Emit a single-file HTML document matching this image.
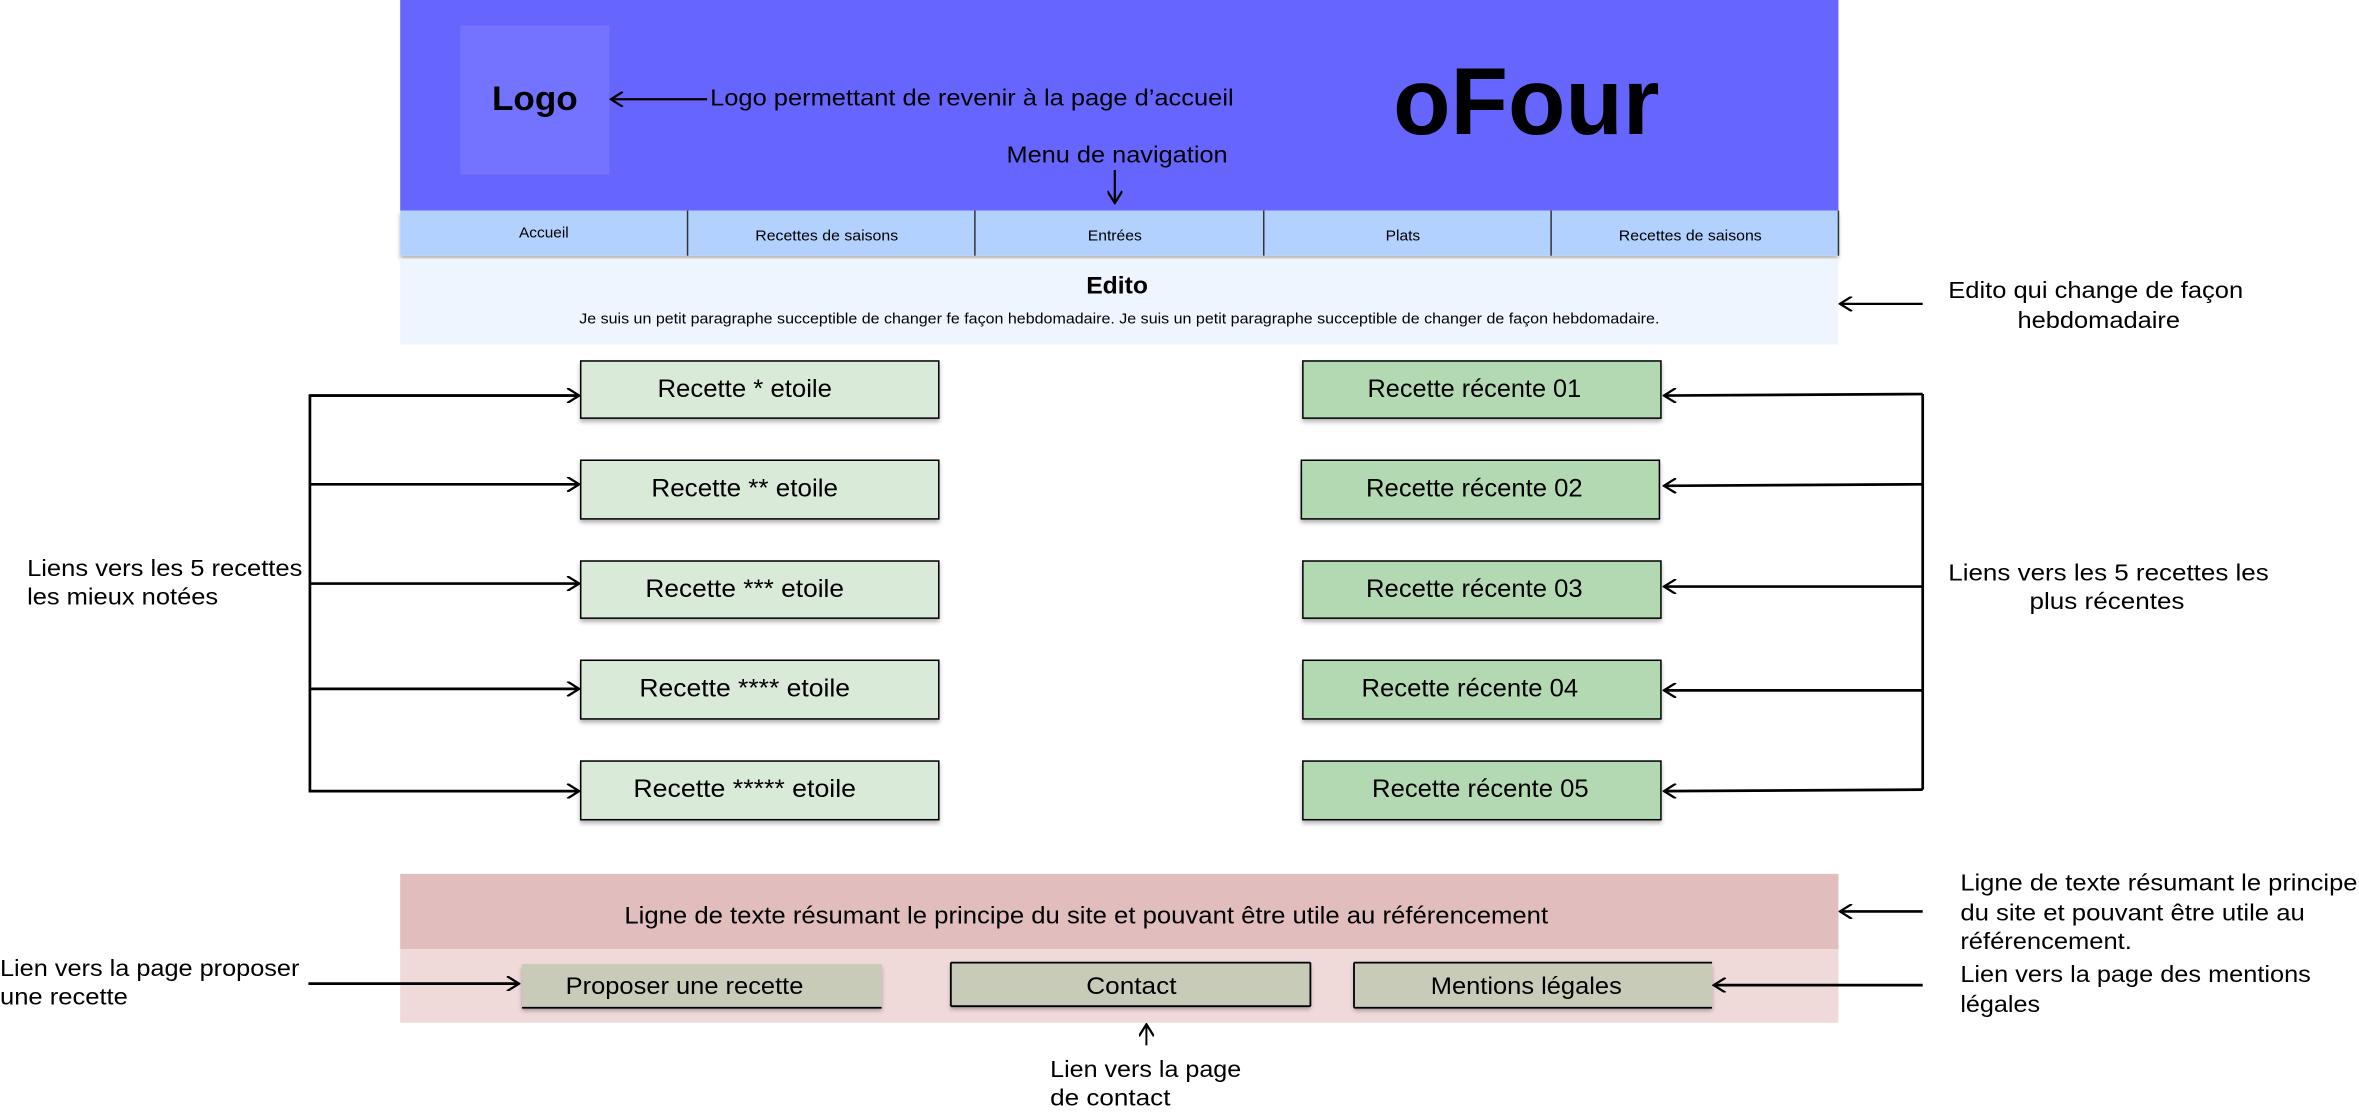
<!DOCTYPE html>
<html><head><meta charset="utf-8"><style>html,body{margin:0;padding:0;background:#fff}svg{display:block}text{font-family:"Liberation Sans",sans-serif;fill:#000}</style></head>
<body>
<svg width="2359" height="1113" viewBox="0 0 1568 740" preserveAspectRatio="none" xmlns="http://www.w3.org/2000/svg">
<defs>
<marker id="a" viewBox="0 0 10 10" refX="9" refY="5" markerWidth="10" markerHeight="10" markerUnits="userSpaceOnUse" orient="auto"><path d="M1,0 L9,5 L1,10" fill="none" stroke="#000" stroke-width="1.5"/></marker>
<filter id="sh" x="-5%" y="-20%" width="110%" height="150%"><feDropShadow dx="0" dy="2" stdDeviation="1.5" flood-color="#000" flood-opacity="0.3"/></filter>
</defs>
<rect x="266" y="0" width="956" height="140" fill="#6666ff"/>
<rect x="306" y="17" width="99" height="99" fill="#7373ff"/>
<text x="327" y="73" font-size="23" font-weight="bold" textLength="57" lengthAdjust="spacingAndGlyphs">Logo</text>
<line x1="470" y1="66" x2="406" y2="66" stroke="#000" stroke-width="1.5" marker-end="url(#a)"/>
<text x="472" y="70" font-size="15.5" textLength="348" lengthAdjust="spacingAndGlyphs">Logo permettant de revenir à la page d’accueil</text>
<text x="926" y="89" font-size="63" font-weight="bold" textLength="177" lengthAdjust="spacingAndGlyphs">oFour</text>
<text x="669" y="108" font-size="15.5" textLength="147" lengthAdjust="spacingAndGlyphs">Menu de navigation</text>
<line x1="741" y1="113" x2="741" y2="135" stroke="#000" stroke-width="1.5" marker-end="url(#a)"/>
<rect x="266" y="140" width="956" height="30" fill="#b3d1ff" filter="url(#sh)"/>
<g stroke="#333" stroke-width="1"><line x1="457" y1="140" x2="457" y2="170"/><line x1="648" y1="140" x2="648" y2="170"/><line x1="840" y1="140" x2="840" y2="170"/><line x1="1031" y1="140" x2="1031" y2="170"/><line x1="1222" y1="140" x2="1222" y2="170"/></g>
<g font-size="10"><text x="345" y="158" textLength="33" lengthAdjust="spacingAndGlyphs">Accueil</text><text x="502" y="160" textLength="95" lengthAdjust="spacingAndGlyphs">Recettes de saisons</text><text x="723" y="160" textLength="36" lengthAdjust="spacingAndGlyphs">Entrées</text><text x="921" y="160" textLength="23" lengthAdjust="spacingAndGlyphs">Plats</text><text x="1076" y="160" textLength="95" lengthAdjust="spacingAndGlyphs">Recettes de saisons</text></g>
<rect x="266" y="172" width="956" height="57" fill="#eff5ff"/>
<text x="722" y="195" font-size="16" font-weight="bold" textLength="41" lengthAdjust="spacingAndGlyphs">Edito</text>
<text x="385" y="215" font-size="10" textLength="718" lengthAdjust="spacingAndGlyphs">Je suis un petit paragraphe succeptible de changer fe façon hebdomadaire. Je suis un petit paragraphe succeptible de changer de façon hebdomadaire.</text>
<line x1="1278" y1="202" x2="1223" y2="202" stroke="#000" stroke-width="1.5" marker-end="url(#a)"/>
<text x="1295" y="198" font-size="15.5" textLength="196" lengthAdjust="spacingAndGlyphs">Edito qui change de façon</text>
<text x="1341" y="218" font-size="15.5" textLength="108" lengthAdjust="spacingAndGlyphs">hebdomadaire</text>
<g stroke="#000" stroke-width="1" fill="#d9ead9" filter="url(#sh)">
<rect x="386" y="240" width="238" height="38"/><rect x="386" y="306" width="238" height="39"/><rect x="386" y="373" width="238" height="38"/><rect x="386" y="439" width="238" height="39"/><rect x="386" y="506" width="238" height="39"/>
</g>
<g font-size="16.5">
<text x="437" y="264" textLength="116" lengthAdjust="spacingAndGlyphs">Recette * etoile</text>
<text x="433" y="330" textLength="124" lengthAdjust="spacingAndGlyphs">Recette ** etoile</text>
<text x="429" y="397" textLength="132" lengthAdjust="spacingAndGlyphs">Recette *** etoile</text>
<text x="425" y="463" textLength="140" lengthAdjust="spacingAndGlyphs">Recette **** etoile</text>
<text x="421" y="530" textLength="148" lengthAdjust="spacingAndGlyphs">Recette ***** etoile</text></g>
<g stroke="#000" stroke-width="1.8" fill="none">
<polyline points="385,263 206,263 206,526 385,526" marker-end="url(#a)"/>
<line x1="206" y1="263" x2="385" y2="263" marker-end="url(#a)"/>
<line x1="206" y1="322" x2="385" y2="322" marker-end="url(#a)"/>
<line x1="206" y1="388" x2="385" y2="388" marker-end="url(#a)"/>
<line x1="206" y1="458" x2="385" y2="458" marker-end="url(#a)"/>
</g>
<text x="18" y="383" font-size="15.5" textLength="183" lengthAdjust="spacingAndGlyphs">Liens vers les 5 recettes</text>
<text x="18" y="402" font-size="15.5" textLength="127" lengthAdjust="spacingAndGlyphs">les mieux notées</text>
<g stroke="#000" stroke-width="1" fill="#b3d9b3" filter="url(#sh)">
<rect x="866" y="240" width="238" height="38"/><rect x="865" y="306" width="238" height="39"/><rect x="866" y="373" width="238" height="38"/><rect x="866" y="439" width="238" height="39"/><rect x="866" y="506" width="238" height="39"/>
</g>
<g font-size="16.5">
<text x="909" y="264" textLength="142" lengthAdjust="spacingAndGlyphs">Recette récente 01</text>
<text x="908" y="330" textLength="144" lengthAdjust="spacingAndGlyphs">Recette récente 02</text>
<text x="908" y="397" textLength="144" lengthAdjust="spacingAndGlyphs">Recette récente 03</text>
<text x="905" y="463" textLength="144" lengthAdjust="spacingAndGlyphs">Recette récente 04</text>
<text x="912" y="530" textLength="144" lengthAdjust="spacingAndGlyphs">Recette récente 05</text></g>
<g stroke="#000" stroke-width="1.8" fill="none">
<polyline points="1278,262 1278,525"/>
<line x1="1278" y1="262" x2="1106" y2="263" marker-end="url(#a)"/>
<line x1="1278" y1="322" x2="1106" y2="323" marker-end="url(#a)"/>
<line x1="1278" y1="390" x2="1106" y2="390" marker-end="url(#a)"/>
<line x1="1278" y1="459" x2="1106" y2="459" marker-end="url(#a)"/>
<line x1="1278" y1="525" x2="1106" y2="526" marker-end="url(#a)"/>
</g>
<text x="1295" y="386" font-size="15.5" textLength="213" lengthAdjust="spacingAndGlyphs">Liens vers les 5 recettes  les</text>
<text x="1349" y="405" font-size="15.5" textLength="103" lengthAdjust="spacingAndGlyphs">plus récentes</text>
<rect x="266" y="581" width="956" height="50" fill="#e1bdbd"/>
<rect x="266" y="631" width="956" height="49" fill="#efd9d9"/>
<text x="415" y="614" font-size="16" textLength="614" lengthAdjust="spacingAndGlyphs">Ligne de texte résumant le principe du site et pouvant être utile au référencement</text>
<g fill="#c8cbb8" filter="url(#sh)">
<rect x="347" y="641" width="239" height="29"/><rect x="632" y="640" width="239" height="29"/><rect x="900" y="640" width="238" height="30"/>
</g>
<g stroke="#000" stroke-width="1.2">
<line x1="347" y1="670" x2="586" y2="670"/>
<line x1="632" y1="640" x2="871" y2="640"/><line x1="632" y1="669" x2="871" y2="669"/><line x1="632" y1="640" x2="632" y2="669"/><line x1="871" y1="640" x2="871" y2="669"/>
<line x1="900" y1="640" x2="1138" y2="640"/><line x1="900" y1="670" x2="1138" y2="670"/><line x1="900" y1="640" x2="900" y2="670"/>
</g>
<g font-size="16">
<text x="376" y="661" textLength="158" lengthAdjust="spacingAndGlyphs">Proposer une recette</text>
<text x="722" y="661" textLength="60" lengthAdjust="spacingAndGlyphs">Contact</text>
<text x="951" y="661" textLength="127" lengthAdjust="spacingAndGlyphs">Mentions légales</text></g>
<g stroke="#000" stroke-width="1.8">
<line x1="205" y1="654" x2="345" y2="654" marker-end="url(#a)"/>
<line x1="1278" y1="655" x2="1139" y2="655" marker-end="url(#a)"/>
<line x1="1278" y1="606" x2="1223" y2="606" marker-end="url(#a)"/>
<line x1="762" y1="695" x2="762" y2="681" stroke-width="1.3" marker-end="url(#a)"/>
</g>
<g font-size="15.5">
<text x="0" y="649" textLength="199" lengthAdjust="spacingAndGlyphs">Lien vers la page proposer</text><text x="0" y="668" textLength="85" lengthAdjust="spacingAndGlyphs">une recette</text>
<text x="1303" y="592" textLength="264" lengthAdjust="spacingAndGlyphs">Ligne de texte résumant le principe</text><text x="1303" y="612" textLength="229" lengthAdjust="spacingAndGlyphs">du site et pouvant être utile au</text><text x="1303" y="631" textLength="114" lengthAdjust="spacingAndGlyphs">référencement.</text>
<text x="1303" y="653" textLength="233" lengthAdjust="spacingAndGlyphs">Lien vers la page des mentions</text><text x="1303" y="673" textLength="53" lengthAdjust="spacingAndGlyphs">légales</text>
<text x="698" y="716" textLength="127" lengthAdjust="spacingAndGlyphs">Lien vers la page</text><text x="698" y="735" textLength="80" lengthAdjust="spacingAndGlyphs">de contact</text>
</g>
</svg>
</body></html>
